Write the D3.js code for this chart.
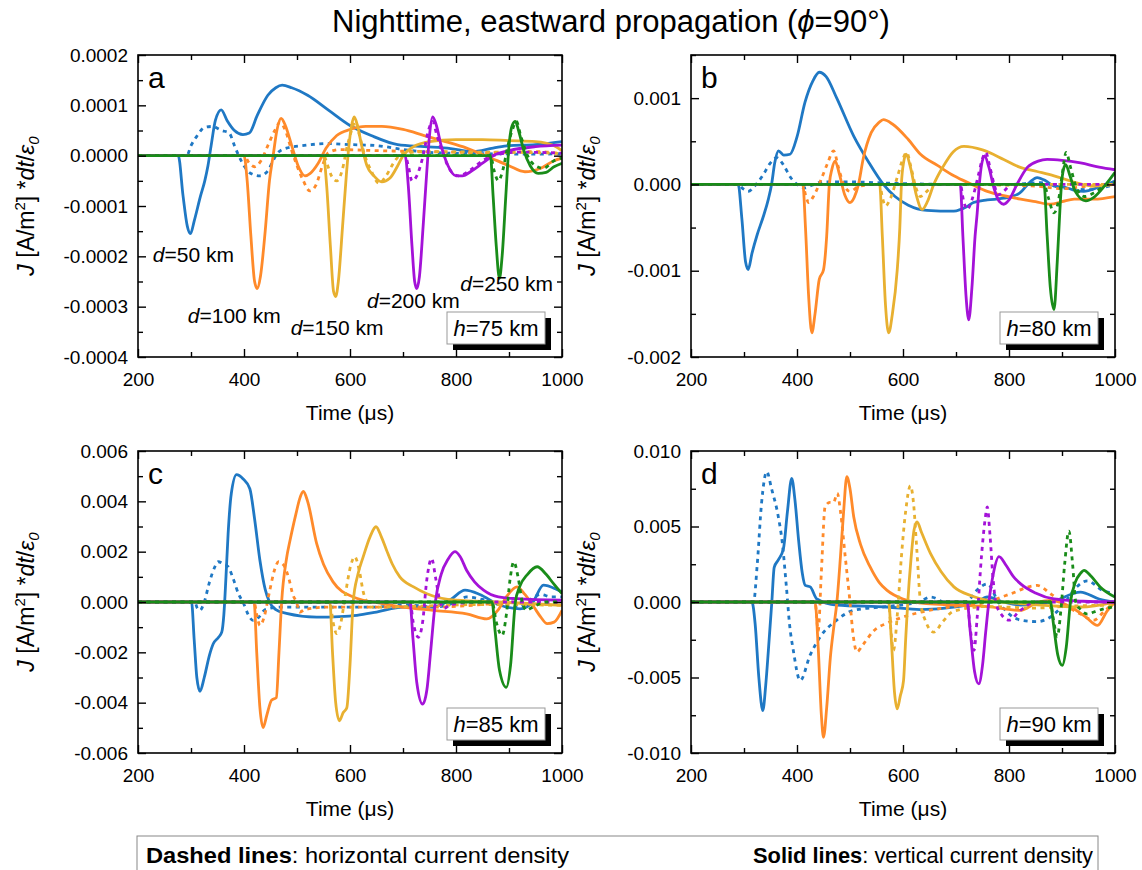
<!DOCTYPE html>
<html>
<head>
<meta charset="utf-8">
<script src="https://d3js.org/d3.v7.min.js"></script>
<style>
  body { margin: 0; background: #fff; }
  svg { display: block; font-family: "Liberation Sans", Arial, sans-serif; }
</style>
</head>
<body>
<svg id="chart" width="1142" height="870"></svg>
<script>

// ---- data (time in us, J*dt/eps0) ----
var distances = ["50", "100", "150", "200", "250"];
var colors = ["#1f78c4", "#ff8a2a", "#e8b030", "#a412d8", "#198c19"];
var xTicks = [200, 400, 600, 800, 1000];
var xMinor = [300, 500, 700, 900];

// panel a, h=75 km
var a_solid = [
  [[200,0],[276,0],[285,-0.00008],[293,-0.00014],[299,-0.000155],[306,-0.00013],[318,-0.00008],[326,-0.00005],[332,-0.00002],[338,0.00002],[346,0.00007],[357,0.000091],[368,0.00007],[382,0.00005],[398,0.000042],[410,0.000045],[425,0.00008],[445,0.00012],[460,0.000135],[472,0.00014],[490,0.000135],[520,0.00012],[560,0.00009],[600,0.00006],[640,0.00004],[690,0.000022],[740,0.000018],[790,0.000014],[830,0.000008],[870,0.000015],[900,0.00002],[950,0.000022],[1000,0.000028]],
  [[200,0],[400,0],[406,-0.00005],[413,-0.00016],[420,-0.00025],[425,-0.000264],[431,-0.00024],[440,-0.00015],[448,-0.00005],[455,0],[462,0.00005],[470,0.000074],[478,0.00006],[490,0.00002],[502,-0.00002],[515,-0.00004],[525,-0.000035],[540,-0.000015],[555,0.000015],[575,0.00004],[600,0.000052],[630,0.000058],[660,0.000058],[700,0.000052],[740,0.00004],[780,0.000028],[820,0.000015],[860,-0.000002],[900,-0.00002],[930,-0.000032],[960,-0.000025],[985,-0.00001],[1000,-0.000005]],
  [[200,0],[550,0],[556,-0.00006],[563,-0.00018],[569,-0.00027],[573,-0.00028],[578,-0.00025],[586,-0.00014],[593,-0.00004],[598,0.00002],[603,0.00006],[608,0.000077],[614,0.00006],[622,0.00002],[632,-0.00002],[645,-0.00004],[660,-0.000052],[675,-0.000045],[690,-0.00002],[700,0],[720,0.000018],[750,0.000028],[800,0.000032],[850,0.000032],[900,0.00003],[950,0.000028],[985,0.00002],[1000,0.00001]],
  [[200,0],[704,0],[710,-0.00006],[717,-0.00018],[722,-0.00025],[726,-0.000264],[731,-0.00024],[738,-0.00014],[745,-0.00003],[750,0.00004],[756,0.000077],[763,0.00006],[772,0.00002],[785,-0.00002],[800,-0.00004],[812,-0.00004],[830,-0.00003],[850,-0.000015],[870,0],[900,0.00001],[950,0.000018],[1000,0.000021]],
  [[200,0],[865,0],[870,-0.00008],[876,-0.00018],[882,-0.000244],[887,-0.0002],[894,-0.00008],[900,0.00002],[906,0.00006],[912,0.000068],[918,0.00005],[928,0.00001],[940,-0.00002],[955,-0.000035],[970,-0.000033],[985,-0.000022],[1000,-0.000015]]
];
var a_dashed = [
  [[200,0],[292,0],[300,0.00002],[312,0.00004],[325,0.000056],[340,0.000058],[358,0.00005],[372,0.000045],[382,0.00002],[390,0],[400,-0.00002],[412,-0.000035],[430,-0.00004],[445,-0.00003],[455,-0.00001],[463,0.000005],[480,0.000015],[510,0.00002],[560,0.000024],[600,0.000022],[650,0.00002],[700,0.000012],[760,0.000006],[850,0.000004],[950,0.000003],[1000,0.000004]],
  [[200,0],[400,0],[410,-0.000015],[420,-0.000022],[432,-0.00001],[445,0.00002],[458,0.00005],[468,0.000066],[478,0.00005],[490,0.00001],[500,-0.00002],[512,-0.00005],[524,-0.00007],[535,-0.00006],[548,-0.00002],[558,0.000005],[580,0.000012],[650,0.00001],[750,0.000008],[850,0.000006],[950,0.000008],[1000,0.000004]],
  [[200,0],[550,0],[558,-0.00002],[565,-0.00004],[575,-0.00005],[585,-0.00003],[595,0.00002],[603,0.00005],[610,0.000068],[618,0.00004],[628,0],[640,-0.00003],[655,-0.000055],[668,-0.00004],[685,-0.00001],[700,0.000005],[750,0.000008],[850,0.000007],[950,0.000006],[1000,0.000004]],
  [[200,0],[704,0],[710,-0.00002],[717,-0.00005],[726,-0.00004],[738,0],[748,0.00005],[756,0.000068],[764,0.00004],[775,0.000005],[790,-0.00003],[805,-0.00004],[825,-0.00003],[850,-0.00001],[870,0],[920,0.000007],[1000,0.000005]],
  [[200,0],[865,0],[872,-0.00003],[880,-0.00005],[888,-0.00003],[898,0.00002],[906,0.00005],[914,0.000068],[922,0.00004],[935,0],[950,-0.00002],[965,-0.000025],[985,-0.00001],[1000,-0.000005]]
];

// panel b, h=80 km
var b_solid = [
  [[200,0],[289,0],[296,-0.0004],[303,-0.0009],[308,-0.000986],[315,-0.0008],[325,-0.00058],[336,-0.00038],[346,-0.00017],[352,0],[358,0.00025],[365,0.00039],[375,0.00034],[387,0.00035],[400,0.00055],[415,0.00095],[430,0.0012],[442,0.0013],[455,0.00125],[475,0.001],[507,0.00056],[535,0.00026],[563,0],[585,-0.00014],[610,-0.00024],[645,-0.0003],[696,-0.00031],[720,-0.00026],[733,-0.00021],[759,-0.00018],[790,-0.00016],[820,-0.0001],[840,0.00003],[853,0.00008],[870,0.00004],[885,-0.00002],[904,-0.00003],[925,-0.00007],[941,-0.00008],[970,-0.00003],[1000,0.00004]],
  [[200,0],[411,0],[416,-0.0005],[422,-0.0013],[428,-0.00172],[434,-0.0015],[442,-0.0011],[450,-0.00099],[456,-0.0006],[461,0],[466,0.00018],[472,0.00027],[480,0.00012],[490,-0.00012],[500,-0.00021],[508,-0.00015],[516,0],[525,0.0003],[540,0.0006],[555,0.00072],[563,0.00075],[580,0.0007],[610,0.00052],[633,0.00035],[665,0.00022],[696,0.0001],[730,0],[759,-0.00008],[790,-0.00013],[822,-0.00017],[850,-0.0002],[878,-0.00023],[900,-0.0002],[923,-0.00017],[960,-0.00017],[1000,-0.00014]],
  [[200,0],[556,0],[561,-0.0006],[567,-0.0014],[573,-0.00172],[580,-0.0015],[589,-0.001],[594,-0.0005],[597,0],[601,0.00025],[606,0.00035],[614,0.0002],[625,-0.00012],[636,-0.00029],[646,-0.0002],[658,0],[675,0.0002],[695,0.00038],[715,0.00044],[750,0.0004],[790,0.00029],[820,0.0002],[853,0.00015],[885,0.0001],[916,0.00004],[960,-0.00002],[1000,0]],
  [[200,0],[708,0],[713,-0.0006],[719,-0.0013],[724,-0.00157],[730,-0.0012],[736,-0.0006],[740,-0.00033],[744,0],[748,0.00022],[754,0.00033],[762,0.0002],[772,-0.00005],[782,-0.0002],[790,-0.00023],[800,-0.00018],[815,0],[835,0.0002],[855,0.00027],[872,0.00029],[900,0.00028],[935,0.00025],[970,0.0002],[1000,0.00017]],
  [[200,0],[866,0],[872,-0.0006],[878,-0.0012],[885,-0.00145],[891,-0.0009],[896,-0.0003],[899,0],[903,0.00018],[907,0.00023],[915,0.0001],[925,-0.00008],[945,-0.00019],[960,-0.00015],[980,-0.00002],[1000,0.00014]]
];
var b_dashed = [
  [[200,0],[289,0],[298,-0.00005],[308,-0.00008],[320,-0.00002],[335,0.0001],[350,0.00025],[362,0.00031],[375,0.00022],[388,0.00008],[400,0],[415,-0.00004],[428,-0.00001],[450,0.00003],[500,0.00003],[550,0.00002],[600,0.00001],[700,0],[800,0],[860,0.00002],[900,-0.00004],[950,-0.00006],[1000,0]],
  [[200,0],[411,0],[416,-0.00012],[422,-0.00021],[430,-0.00015],[445,0.00005],[458,0.00025],[469,0.00039],[478,0.0002],[488,0],[500,-0.00008],[515,-0.00003],[540,0],[700,0],[850,-0.00002],[900,-0.00005],[950,-0.00002],[1000,0]],
  [[200,0],[556,0],[561,-0.00015],[567,-0.00025],[575,-0.00018],[590,0.0001],[600,0.0003],[607,0.00037],[615,0.0002],[625,-0.00005],[633,-0.00014],[645,-0.00008],[660,0],[1000,0]],
  [[200,0],[708,0],[714,-0.00018],[721,-0.00029],[730,-0.00018],[742,0.0001],[750,0.0003],[756,0.00037],[764,0.0002],[772,0],[780,-0.00012],[790,-0.00008],[805,0],[1000,0]],
  [[200,0],[866,0],[874,-0.00015],[885,-0.00033],[893,-0.0002],[900,0.0001],[908,0.00037],[916,0.0002],[928,-0.00005],[942,-0.00014],[960,-0.0001],[985,0],[1000,0.00002]]
];

// panel c, h=85 km
var c_solid = [
  [[200,0],[301,0],[306,-0.0015],[311,-0.003],[317,-0.00355],[325,-0.003],[335,-0.0021],[342,-0.00166],[352,-0.0014],[358,-0.0012],[362,-0.0005],[366,0.001],[370,0.0027],[376,0.0043],[386,0.00506],[398,0.0049],[411,0.0045],[420,0.0033],[430,0.00166],[440,0.0005],[448,0],[460,-0.0003],[480,-0.00045],[537,-0.0006],[580,-0.00058],[613,-0.00053],[650,-0.0004],[700,-0.0002],[757,-0.0002],[790,0.0001],[817,0.00047],[845,0.0003],[880,-0.0001],[921,-0.00027],[945,0],[965,0.00067],[990,0.0005],[1000,0.0004]],
  [[200,0],[419,0],[424,-0.002],[430,-0.0042],[436,-0.00499],[443,-0.0045],[452,-0.0039],[461,-0.0038],[466,-0.002],[471,0],[480,0.0017],[487,0.00246],[498,0.0035],[505,0.0041],[512,0.00439],[520,0.004],[537,0.00233],[550,0.0015],[568,0.0008],[606,0.0002],[663,-0.00007],[700,-0.0002],[757,-0.00033],[820,-0.00047],[858,-0.00067],[880,-0.0003],[895,0.0002],[915,0.0006],[930,0.0003],[947,-0.0002],[960,-0.0006],[972,-0.00086],[985,-0.0008],[1000,-0.00033]],
  [[200,0],[562,0],[567,-0.002],[573,-0.004],[580,-0.00472],[587,-0.0044],[594,-0.0042],[600,-0.0025],[606,0],[615,0.0011],[625,0.0018],[638,0.0026],[649,0.00299],[659,0.0026],[669,0.00206],[680,0.0015],[694,0.001],[720,0.0006],[745,0.00033],[800,0.00007],[880,0],[1000,-0.00013]],
  [[200,0],[713,0],[719,-0.0015],[726,-0.0032],[737,-0.00406],[745,-0.0035],[752,-0.002],[761,0],[772,0.0011],[785,0.0017],[798,0.002],[808,0.0018],[820,0.00126],[835,0.0008],[852,0.00047],[880,0.0002],[915,0.00013],[1000,0.00007]],
  [[200,0],[868,0],[874,-0.0012],[882,-0.0027],[895,-0.00339],[903,-0.0025],[912,0],[920,0.0006],[935,0.0011],[953,0.0014],[970,0.0011],[984,0.00073],[1000,0.00033]]
];
var c_dashed = [
  [[200,0],[307,0],[312,-0.00025],[317,-0.00033],[325,0],[335,0.0008],[345,0.0014],[351,0.0016],[362,0.0015],[370,0.0014],[380,0.0009],[390,0.0003],[398,0],[408,-0.0005],[417,-0.00073],[428,-0.0006],[440,-0.0003],[470,-0.0002],[550,-0.0002],[650,-0.0002],[700,-0.0001],[760,-0.0002],[800,0],[820,0.0002],[850,0.0001],[880,-0.0001],[920,-0.0002],[940,0.0001],[960,0.0003],[980,0.0002],[1000,0.0002]],
  [[200,0],[419,0],[424,-0.0005],[430,-0.00093],[438,-0.0006],[448,0.0004],[458,0.0013],[465,0.0016],[475,0.00146],[485,0.0009],[492,0.0003],[499,0],[505,-0.0004],[515,-0.0003],[560,-0.0002],[650,-0.0002],[760,-0.0002],[850,-0.0001],[900,0],[950,-0.0001],[1000,-0.0001]],
  [[200,0],[562,0],[568,-0.0008],[575,-0.00126],[583,-0.0008],[592,0.0004],[602,0.0015],[609,0.0018],[618,0.0012],[625,0.0004],[632,0],[640,-0.0002],[660,-0.0002],[750,-0.00015],[850,-0.0001],[1000,-0.00013]],
  [[200,0],[713,0],[720,-0.0009],[729,-0.0014],[737,-0.0008],[745,0.0009],[754,0.00173],[762,0.0009],[770,0],[778,-0.00025],[790,-0.0001],[850,0],[1000,0]],
  [[200,0],[868,0],[876,-0.0008],[887,-0.00133],[895,-0.0005],[902,0.0009],[909,0.0016],[917,0.001],[925,0],[933,-0.00033],[945,-0.0002],[970,0],[1000,0]]
];

// panel d, h=90 km
var d_solid = [
  [[200,0],[315,0],[321,-0.00144],[328,-0.005],[335.5,-0.00719],[341,-0.0055],[346,-0.0032],[352.5,0],[357,0.0023],[365,0.0028],[374.5,0.00354],[382,0.006],[390,0.00819],[396,0.0068],[403,0.0041],[410,0.0019],[415.5,0.0011],[425,0.001],[437.5,0.0002],[475,-0.0002],[570,-0.00033],[633,-0.0005],[700,-0.00033],[740,0],[759,0.00033],[790,0],[822,-0.0002],[880,0],[935,0.00066],[970,0.0002],[1000,0]],
  [[200,0],[434,0],[440,-0.003],[446,-0.0075],[450,-0.00896],[456,-0.007],[463,-0.00365],[470,-0.0015],[475,-0.0001],[482,0.003],[488,0.006],[494,0.0083],[500,0.0075],[507,0.00564],[520,0.0038],[538,0.00232],[555,0.0013],[570,0.00077],[600,0.0002],[620,0],[696,-0.0002],[760,-0.0003],[822,-0.00055],[855,0],[880,0.0001],[920,-0.0004],[945,-0.001],[967,-0.00155],[985,-0.0006],[1000,0]],
  [[200,0],[573,0],[578,-0.0025],[584,-0.006],[589,-0.00708],[595,-0.0062],[601,-0.0052],[605,-0.0025],[609,0],[615,0.0028],[621,0.0048],[626.5,0.0053],[635,0.0046],[652,0.0032],[672,0.002],[696,0.001],[730,0.0004],[760,0.0001],[822,-0.0001],[935,-0.00033],[1000,0]],
  [[200,0],[721,0],[727,-0.002],[735,-0.0046],[743,-0.00542],[750,-0.0042],[756,-0.002],[762,0],[770,0.0018],[781,0.003],[795,0.0024],[808,0.0017],[822,0.0012],[850,0.0006],[885,0.0002],[940,0.00005],[1000,0]],
  [[200,0],[878,0],[884,-0.0015],[892,-0.0035],[900.6,-0.0042],[908,-0.003],[916,0],[925,0.0013],[935,0.0019],[941.5,0.0021],[955,0.0017],[972,0.001],[1000,0.00033]]
];
var d_dashed = [
  [[200,0],[318,0],[325,0.0025],[333,0.0065],[343,0.00863],[352,0.0075],[365,0.0056],[372,0.004],[380,0.001],[386,-0.0015],[393,-0.0032],[406,-0.0052],[425,-0.0035],[444,-0.0023],[475,-0.0012],[507,-0.00055],[570,-0.0003],[630,0],[652,0.00033],[690,-0.0002],[720,0],[740,0.0008],[759,0.0012],[780,0],[822,-0.0012],[853,-0.0013],[900,-0.0003],[925,0.0009],[948,0.0014],[975,0.0008],[1000,0.00055]],
  [[200,0],[434,0],[440,-0.0019],[446,0.002],[453,0.0063],[462,0.0066],[469,0.0066],[476,0.0072],[482,0.006],[491,0.003],[500,0],[506,-0.0022],[513,-0.0033],[525,-0.0028],[545,-0.0019],[570,-0.0014],[600,-0.001],[630,-0.0007],[696,-0.0003],[759,0],[800,0.0005],[853,0.0011],[880,0.0005],[910,-0.0003],[935,-0.0008],[960,-0.0012],[980,-0.0006],[1000,0]],
  [[200,0],[573,0],[577,-0.0018],[582,-0.0032],[590,-0.0005],[597,0.003],[605,0.006],[614,0.0077],[620,0.0065],[626,0.0035],[633,0],[643,-0.0013],[658,-0.002],[675,-0.0013],[696,-0.0006],[760,-0.0003],[850,-0.0004],[900,-0.0003],[1000,-0.0002]],
  [[200,0],[721,0],[727,-0.0018],[734,-0.0032],[740,-0.001],[748,0.003],[755,0.0055],[759,0.0063],[764,0.0045],[770,0.0015],[775,0],[785,-0.0008],[800,-0.0012],[820,-0.0006],[850,0],[1000,0]],
  [[200,0],[878,0],[884,-0.0012],[891,-0.0023],[898,-0.0005],[905,0.0025],[913,0.0047],[920,0.0025],[926,0],[935,-0.0005],[948,-0.0008],[965,-0.0006],[985,-0.0004],[1000,-0.0003]]
];

// distance labels in panel a, placed at (time, value)
var a_labels = [
  {d: "50",  t: 228, v: -0.000212},
  {d: "100", t: 294, v: -0.000333},
  {d: "150", t: 488, v: -0.000356},
  {d: "200", t: 632, v: -0.000302},
  {d: "250", t: 808, v: -0.000268}
];

var panels = [
  {id: "a", h: "75", solid: a_solid, dashed: a_dashed, yDomain: [-0.0004, 0.0002], yStep: 0.0001, dec: 4, left: 138, top: 55},
  {id: "b", h: "80", solid: b_solid, dashed: b_dashed, yDomain: [-0.002, 0.0015], yStep: 0.001, dec: 3, left: 691, top: 55},
  {id: "c", h: "85", solid: c_solid, dashed: c_dashed, yDomain: [-0.006, 0.006], yStep: 0.002, dec: 3, left: 138, top: 451},
  {id: "d", h: "90", solid: d_solid, dashed: d_dashed, yDomain: [-0.010, 0.010], yStep: 0.005, dec: 3, left: 691, top: 451}
];

var pw = 424, ph = 302;
var svg = d3.select("#chart");

// plain hyphen minus, fixed decimals like the original axis labels
function fmt(dec) {
  return function(v) {
    return Math.abs(v) < 1e-12 ? (0).toFixed(dec) : v.toFixed(dec);
  };
}

function stepTicks(lo, hi, step) {
  var out = [];
  var n0 = Math.ceil(lo / step - 1e-9), n1 = Math.floor(hi / step + 1e-9);
  for (var k = n0; k <= n1; k++) out.push(+(k * step).toFixed(8));
  return out;
}

// title
var title = svg.append("text")
  .attr("x", 611).attr("y", 32)
  .attr("text-anchor", "middle")
  .attr("font-size", "31px");
title.append("tspan").text("Nighttime, eastward propagation (");
title.append("tspan").attr("font-style", "italic").text("\u03d5");
title.append("tspan").text("=90\u00b0)");

panels.forEach(function(p) {
  var g = svg.append("g").attr("transform", "translate(" + p.left + "," + p.top + ")");

  var x = d3.scaleLinear().domain([200, 1000]).range([0, pw]);
  var y = d3.scaleLinear().domain(p.yDomain).range([ph, 0]);

  var yMajor = stepTicks(p.yDomain[0], p.yDomain[1], p.yStep);
  var yMinor = stepTicks(p.yDomain[0], p.yDomain[1], p.yStep / 2).filter(function(v) {
    return yMajor.indexOf(v) < 0;
  });

  g.append("clipPath").attr("id", "clip_" + p.id)
    .append("rect").attr("width", pw).attr("height", ph);

  var line = d3.line()
    .x(function(d) { return x(d[0]); })
    .y(function(d) { return y(d[1]); })
    .curve(d3.curveMonotoneX);

  var plot = g.append("g").attr("clip-path", "url(#clip_" + p.id + ")");
  for (var i = 0; i < distances.length; i++) {
    plot.append("path")
      .datum(p.dashed[i])
      .attr("fill", "none")
      .attr("stroke", colors[i])
      .attr("stroke-width", 2.8)
      .attr("stroke-dasharray", "4,4.5")
      .attr("d", line);
    plot.append("path")
      .datum(p.solid[i])
      .attr("fill", "none")
      .attr("stroke", colors[i])
      .attr("stroke-width", 2.8)
      .attr("stroke-linejoin", "round")
      .attr("d", line);
  }

  // axes, ticks pointing inward on all four sides
  function addAxis(axis, tr) {
    var a = g.append("g").attr("transform", tr).call(axis);
    a.select(".domain").remove();
    a.selectAll("line").attr("stroke", "#000").attr("stroke-width", 1.4);
    a.selectAll("text").attr("font-size", "19px").attr("fill", "#000")
      .attr("font-family", "Liberation Sans, Arial, sans-serif");
    return a;
  }
  addAxis(d3.axisBottom(x).tickValues(xTicks).tickSize(-8).tickPadding(16).tickFormat(d3.format("d")), "translate(0," + ph + ")");
  addAxis(d3.axisBottom(x).tickValues(xMinor).tickSize(-5).tickFormat(""), "translate(0," + ph + ")");
  addAxis(d3.axisTop(x).tickValues(xTicks).tickSize(-8).tickFormat(""), "translate(0,0)");
  addAxis(d3.axisTop(x).tickValues(xMinor).tickSize(-5).tickFormat(""), "translate(0,0)");
  addAxis(d3.axisLeft(y).tickValues(yMajor).tickSize(-8).tickPadding(10).tickFormat(fmt(p.dec)), "translate(0,0)");
  addAxis(d3.axisLeft(y).tickValues(yMinor).tickSize(-5).tickFormat(""), "translate(0,0)");
  addAxis(d3.axisRight(y).tickValues(yMajor).tickSize(-8).tickFormat(""), "translate(" + pw + ",0)");
  addAxis(d3.axisRight(y).tickValues(yMinor).tickSize(-5).tickFormat(""), "translate(" + pw + ",0)");

  g.append("rect")
    .attr("width", pw).attr("height", ph)
    .attr("fill", "none").attr("stroke", "#000").attr("stroke-width", 1.6);

  // panel letter
  g.append("text").attr("x", 10).attr("y", 33)
    .attr("font-size", "30px").text(p.id);

  // h= box with shadow
  var bw = 98, bh = 32, bx = pw - 17 - bw, by = ph - 13 - bh;
  g.append("rect").attr("x", bx + 6).attr("y", by + 6).attr("width", bw).attr("height", bh).attr("fill", "#000");
  g.append("rect").attr("x", bx).attr("y", by).attr("width", bw).attr("height", bh)
    .attr("fill", "#fff").attr("stroke", "#999").attr("stroke-width", 1);
  var ht = g.append("text").attr("x", bx + bw / 2).attr("y", by + 24)
    .attr("text-anchor", "middle").attr("font-size", "22px");
  ht.append("tspan").attr("font-style", "italic").text("h");
  ht.append("tspan").text("=" + p.h + " km");

  // x axis title
  g.append("text").attr("x", pw / 2).attr("y", ph + 63)
    .attr("text-anchor", "middle").attr("font-size", "21px")
    .text("Time (\u03bcs)");

  // y axis title
  var yx = p.left < 300 ? -104 : -96;
  var yt = g.append("text")
    .attr("transform", "translate(" + yx + "," + (ph / 2) + ") rotate(-90)")
    .attr("text-anchor", "middle").attr("font-size", "23px");
  yt.append("tspan").attr("font-style", "italic").text("J");
  yt.append("tspan").text(" [A/m");
  yt.append("tspan").attr("font-size", "15px").attr("dy", -9).text("2");
  yt.append("tspan").attr("dy", 9).text("] *");
  yt.append("tspan").attr("font-style", "italic").text("dt");
  yt.append("tspan").text("/");
  yt.append("tspan").attr("font-style", "italic").text("\u03b5");
  yt.append("tspan").attr("font-style", "italic").attr("font-size", "15px").attr("dy", 5).text("0");

  if (p.id === "a") {
    a_labels.forEach(function(l) {
      var t = g.append("text").attr("x", x(l.t)).attr("y", y(l.v)).attr("font-size", "21px");
      t.append("tspan").attr("font-style", "italic").text("d");
      t.append("tspan").text("=" + l.d + " km");
    });
  }
});

// bottom legend box
var lg = svg.append("g");
lg.append("rect").attr("x", 137).attr("y", 836).attr("width", 961).attr("height", 40)
  .attr("fill", "#fff").attr("stroke", "#888").attr("stroke-width", 1);
var l1 = lg.append("text").attr("x", 146).attr("y", 863)
  .attr("font-size", "22px")
  .attr("textLength", 423).attr("lengthAdjust", "spacingAndGlyphs");
l1.append("tspan").attr("font-weight", "bold").text("Dashed lines");
l1.append("tspan").text(": horizontal current density");
var l2 = lg.append("text").attr("x", 753).attr("y", 863)
  .attr("font-size", "22px")
  .attr("textLength", 340).attr("lengthAdjust", "spacingAndGlyphs");
l2.append("tspan").attr("font-weight", "bold").text("Solid lines");
l2.append("tspan").text(": vertical current density");

</script>
</body>
</html>
